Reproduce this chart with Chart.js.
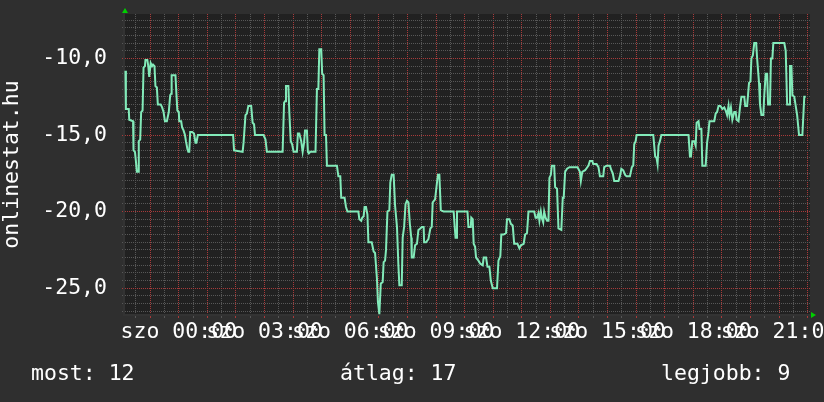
<!DOCTYPE html>
<html>
<head>
<meta charset="utf-8">
<script src="https://cdn.jsdelivr.net/npm/chart.js@4.4.1/dist/chart.umd.min.js"></script>
<style>
  html, body { margin: 0; padding: 0; background: #2f2f2f; }
  #wrap { width: 824px; height: 402px; }
</style>
</head>
<body>
<div id="wrap"><canvas id="rrdChart" width="824" height="402"></canvas></div>
<script>
// idő percben 00:00-tól (szombat), előtte negatív = péntek este
const minutes = [
  -112, -111, -105, -104, -96, -95, -92, -90, -88, -85, -84, -81, -79, -76, -74, -71, -70, -66, -64, -62,
  -59, -56, -54, -51, -49, -46, -44, -38, -35, -32, -29, -25, -21, -18, -16, -15, -7, -5, -3, 0,
  1, 5, 7, 10, 13, 15, 18, 20, 22, 24, 28, 32, 35, 37, 40, 114, 116,
  134, 136, 140, 143, 146, 152, 155, 158, 160, 178, 182, 185, 218, 221, 223, 225, 230, 232, 235, 238,
  241, 248, 250, 253, 257, 260, 263, 265, 269, 271, 273, 276, 287, 290, 293, 295, 299, 301, 304, 306,
  309, 311, 332, 335, 339, 341, 348, 351, 354,
  377, 379, 383, 385, 388, 390, 393, 396, 398, 405, 409, 412, 416, 418, 421, 424, 428, 430, 433, 435,
  438, 442, 444, 447, 451, 454, 458, 461, 463, 468, 470, 473, 476, 479, 482, 485, 488, 489, 493, 496,
  500, 503, 507, 510, 514, 515, 519, 524, 528, 531, 533, 538, 542, 544, 547, 550, 556, 577, 579, 581,
  582, 584,
  606, 608, 613, 614, 617, 619, 622, 624, 629, 633, 638, 640, 645, 648, 652, 655, 659, 668, 671, 675,
  677, 682, 687, 689, 694, 697, 701, 704, 711, 715, 718, 724, 727, 731, 734, 746, 749, 752, 755, 757,
  760, 762, 765, 767, 770, 773, 776, 778, 781, 783, 788, 790, 794, 797, 803, 806, 808, 811, 815, 820,
  837,
  842, 844, 847, 853, 860, 863, 868, 870, 877, 881, 884, 891, 893, 898, 905, 908, 911, 914, 923, 926,
  929, 933, 937, 940, 947, 951, 954, 956, 959, 961, 996, 1000, 1003, 1005, 1007, 1010, 1013, 1070, 1073, 1075,
  1078, 1082,
  1085, 1087, 1091, 1093, 1097, 1099, 1106, 1109, 1112, 1114, 1124, 1127, 1130, 1133, 1137, 1141, 1145, 1148, 1151, 1154,
  1156, 1159, 1162, 1166, 1169, 1171, 1175, 1178, 1181, 1187, 1189, 1193, 1197, 1200, 1202, 1205, 1208, 1212, 1214, 1218,
  1220, 1223, 1227, 1229, 1232, 1235, 1237, 1241, 1243, 1246, 1248, 1271, 1274, 1277, 1281, 1283, 1286, 1288, 1292, 1295,
  1298, 1302, 1309, 1313, 1316
];
const values = [
  -10.8, -13.3, -13.3, -14.0, -14.1, -16.0, -16.1, -16.7, -17.4, -17.4, -15.4, -15.3, -13.5, -13.4, -10.6, -10.5, -10.1, -10.1, -10.5, -11.2,
  -10.3, -10.5, -10.4, -10.5, -11.8, -11.9, -13.0, -13.0, -13.2, -13.5, -14.1, -14.1, -13.5, -12.4, -12.3, -11.1, -11.1, -12.3, -13.4, -13.5,
  -14.1, -14.1, -14.5, -14.7, -15.0, -15.4, -15.9, -16.1, -16.1, -14.8, -14.8, -14.9, -15.5, -15.5, -15.0, -15.0, -16.0,
  -16.1, -15.5, -13.7, -13.6, -13.1, -13.1, -14.2, -14.3, -15.0, -15.0, -15.3, -16.1, -16.1, -12.9, -12.8, -11.8, -11.8, -13.5, -15.4, -15.6,
  -16.1, -16.1, -14.9, -14.9, -15.4, -16.1, -15.5, -14.7, -14.7, -16.1, -16.2, -16.1, -16.1, -12.0, -12.0, -9.4, -9.4, -11.0, -11.1, -15.0,
  -15.0, -17.0, -17.0, -17.7, -17.7, -19.1, -19.1, -19.7, -20.0,
  -20.0, -20.5, -20.6, -20.4, -20.3, -19.7, -19.7, -20.2, -22.0, -22.0, -22.6, -22.7, -24.4, -25.9, -26.7, -24.7, -24.6, -23.3, -23.2, -22.5,
  -20.0, -19.9, -18.1, -17.6, -17.6, -19.6, -21.0, -23.5, -24.8, -24.8, -21.7, -21.0, -19.5, -19.3, -19.4, -20.8, -21.7, -23.0, -23.0, -22.2,
  -22.1, -21.2, -21.1, -21.0, -21.0, -22.0, -22.0, -21.8, -21.1, -21.0, -19.4, -19.2, -18.1, -17.6, -17.6, -19.9, -20.0, -20.0, -20.9, -21.7,
  -21.7, -20.0,
  -20.0, -21.0, -21.0, -20.4, -20.5, -22.1, -22.3, -23.0, -23.2, -23.4, -23.5, -23.0, -23.0, -23.6, -23.6, -24.5, -25.0, -25.0, -23.2, -22.9,
  -21.5, -21.5, -21.4, -20.5, -20.5, -20.8, -20.9, -22.1, -22.1, -22.4, -22.2, -22.1, -21.5, -21.4, -20.0, -20.0, -20.4, -20.4, -20.1, -20.6,
  -20.0, -20.4, -20.7, -20.0, -20.4, -20.6, -20.6, -17.8, -17.6, -17.0, -17.0, -18.4, -18.5, -21.1, -21.2, -19.1, -19.1, -17.4, -17.2, -17.1,
  -17.1,
  -17.4, -18.0, -17.4, -17.3, -17.0, -16.7, -16.7, -16.9, -16.9, -17.1, -17.7, -17.7, -17.1, -17.0, -17.0, -17.3, -17.5, -18.0, -18.0, -17.7,
  -17.2, -17.3, -17.6, -17.7, -17.7, -17.1, -17.0, -15.6, -15.4, -15.0, -15.0, -16.4, -16.5, -16.9, -15.7, -15.4, -15.0, -15.0, -16.4, -16.4,
  -15.4, -15.4,
  -15.7, -14.2, -14.1, -14.6, -14.6, -17.0, -17.0, -15.5, -14.8, -14.1, -14.1, -13.6, -13.5, -13.1, -13.1, -13.3, -13.2, -13.4, -13.7, -13.1,
  -13.7, -13.2, -14.0, -13.5, -13.5, -14.0, -14.1, -13.2, -12.5, -12.5, -13.1, -13.1, -11.6, -11.5, -10.0, -9.8, -9.0, -9.0, -10.0, -11.6,
  -13.0, -13.7, -13.7, -12.4, -11.0, -11.0, -13.0, -13.0, -10.0, -10.0, -9.0, -9.0, -9.5, -13.0, -13.0, -10.5, -10.5, -12.4, -12.5, -13.1,
  -13.7, -15.0, -15.0, -12.5, -12.5
];

// tengelyek és feliratok
const xMin = -115, xMax = 1325;
const xLabelTimes = [0, 180, 360, 540, 720, 900, 1080, 1260];
const xLabels = ['szo 00:00', 'szo 03:00', 'szo 06:00', 'szo 09:00', 'szo 12:00', 'szo 15:00', 'szo 18:00', 'szo 21:00'];
const yMin = -26.75, yMax = -7.1;
const yLabelValues = [-10, -15, -20, -25];
const yLabels = ['-10,0', '-15,0', '-20,0', '-25,0'];
const yTitle = 'onlinestat.hu';
const legendNames = ['most', 'átlag', 'legjobb'];
const legendValues = [12, 17, 9];

const FONT = "'DejaVu Sans Mono', monospace";
const FONT_SIZE = 21.5;
const gridMinor = '#575757';
const gridMajor = '#a83a3a';

// rácsvonalak: 30 percenként / fél egységenként
const xGrid = [];
for (let t = -90; t <= xMax; t += 30) xGrid.push(t);
const yGrid = [];
for (let k = -53; k <= -15; k++) yGrid.push(k / 2);

// a skálák saját margóit nullázzuk, hogy a rajzterület pontosan üljön
const noScalePadding = s => {
  s.paddingTop = 0; s.paddingBottom = 0; s.paddingLeft = 0; s.paddingRight = 0;
};

// háttér, nyilak, alsó összesítő sor
const rrdExtras = {
  id: 'rrdExtras',
  beforeDraw(chart) {
    const { ctx, chartArea: a } = chart;
    ctx.save();
    ctx.fillStyle = '#2f2f2f';
    ctx.fillRect(0, 0, chart.width, chart.height);
    ctx.fillStyle = '#212121';
    ctx.fillRect(a.left, a.top, a.right - a.left, a.bottom - a.top);
    ctx.restore();
  },
  afterDraw(chart) {
    const { ctx, chartArea: a } = chart;
    ctx.save();
    ctx.fillStyle = '#00d000';
    ctx.beginPath();
    ctx.moveTo(a.left + 1, a.top - 6);
    ctx.lineTo(a.left - 2, a.top - 1);
    ctx.lineTo(a.left + 4, a.top - 1);
    ctx.closePath();
    ctx.fill();
    ctx.beginPath();
    ctx.moveTo(a.right + 6, a.bottom);
    ctx.lineTo(a.right + 1, a.bottom - 3);
    ctx.lineTo(a.right + 1, a.bottom + 3);
    ctx.closePath();
    ctx.fill();

    ctx.fillStyle = '#ffffff';
    ctx.font = FONT_SIZE + 'px ' + FONT;
    ctx.textBaseline = 'alphabetic';
    ctx.textAlign = 'left';
    const xs = [31, 340, 661];
    legendNames.forEach((n, i) => ctx.fillText(n + ': ' + legendValues[i], xs[i], 380));
    ctx.restore();
  }
};

const ctx = document.getElementById('rrdChart');
new Chart(ctx, {
  type: 'line',
  data: {
    datasets: [{
      data: minutes.map((m, i) => ({ x: m, y: values[i] })),
      borderColor: '#82eab9',
      borderWidth: 2,
      pointRadius: 0,
      tension: 0,
      fill: false
    }]
  },
  options: {
    responsive: false,
    animation: false,
    layout: { padding: { top: 14, right: 14, left: 0, bottom: 0 } },
    plugins: { legend: { display: false }, tooltip: { enabled: false } },
    scales: {
      x: {
        type: 'linear',
        min: xMin,
        max: xMax,
        afterBuildTicks: s => { s.ticks = xGrid.map(v => ({ value: v })); },
        afterFit: s => { s.height = 87; noScalePadding(s); },
        ticks: {
          autoSkip: false,
          maxRotation: 0,
          minRotation: 0,
          padding: 2,
          color: '#ffffff',
          font: { family: FONT, size: FONT_SIZE },
          callback: v => {
            const i = xLabelTimes.indexOf(v);
            return i >= 0 ? xLabels[i] : '';
          }
        },
        grid: {
          color: c => (c.tick && Math.abs(c.tick.value % 60) === 0) ? gridMajor : gridMinor,
          tickLength: 3,
          lineWidth: 1
        },
        border: { color: '#333333', width: 2, dash: [1, 1] }
      },
      y: {
        type: 'linear',
        min: yMin,
        max: yMax,
        afterBuildTicks: s => { s.ticks = yGrid.map(v => ({ value: v })); },
        afterFit: s => { s.width = 124; noScalePadding(s); },
        ticks: {
          autoSkip: false,
          padding: 15,
          color: '#ffffff',
          font: { family: FONT, size: FONT_SIZE },
          callback: v => {
            const i = yLabelValues.indexOf(v);
            return i >= 0 ? yLabels[i] : '';
          }
        },
        grid: {
          color: c => (c.tick && yLabelValues.includes(c.tick.value)) ? gridMajor : gridMinor,
          tickLength: 2,
          lineWidth: 1
        },
        border: { color: '#333333', width: 2, dash: [1, 1] },
        title: {
          display: true,
          text: yTitle,
          color: '#ffffff',
          font: { family: FONT, size: FONT_SIZE },
          padding: { top: 0, bottom: 0 }
        }
      }
    }
  },
  plugins: [rrdExtras]
});
</script>
</body>
</html>
